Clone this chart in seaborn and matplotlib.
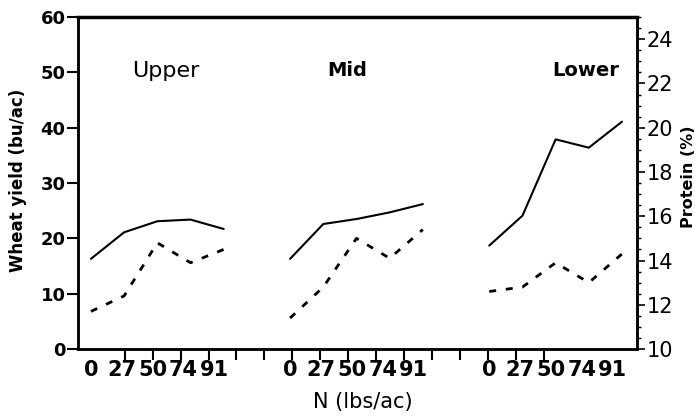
import numpy as np
import pandas as pd
import matplotlib
matplotlib.use("Agg")
import matplotlib.pyplot as plt
from matplotlib.ticker import MultipleLocator, FixedLocator
import seaborn as sns

# ---- data ----
regions = ["Upper", "Mid", "Lower"]
n_rates = [0, 27, 50, 74, 91]
yield_upper = [16.3, 21.1, 23.1, 23.4, 21.7]
yield_mid = [16.3, 22.6, 23.5, 24.7, 26.2]
yield_lower = [18.7, 24.1, 37.9, 36.4, 41.1]
protein_upper = [11.7, 12.4, 14.8, 13.9, 14.5]
protein_mid = [11.4, 12.8, 15.0, 14.1, 15.4]
protein_lower = [12.6, 12.8, 13.9, 13.0, 14.3]

yields = [yield_upper, yield_mid, yield_lower]
proteins = [protein_upper, protein_mid, protein_lower]

rows = []
for g, reg in enumerate(regions):
    for i, n in enumerate(n_rates):
        rows.append({"region": reg, "pos": 6 * g + i, "N": n,
                     "yield": yields[g][i], "protein": proteins[g][i]})
df = pd.DataFrame(rows)

sns.set_style("ticks")
plt.rcParams["font.family"] = ["DejaVu Sans"]
plt.rcParams["text.color"] = "black"
plt.rcParams["axes.labelcolor"] = "black"
plt.rcParams["xtick.color"] = "black"
plt.rcParams["ytick.color"] = "black"

fig = plt.figure(figsize=(6.95, 4.17), dpi=100)
ax = fig.add_axes([0.1122, 0.163, 0.8043, 0.796])
ax2 = ax.twinx()

sns.lineplot(data=df, x="pos", y="yield", units="region", estimator=None,
             color="black", lw=1.5, ax=ax, legend=False)
sns.lineplot(data=df, x="pos", y="protein", units="region", estimator=None,
             color="black", lw=2.0, ax=ax2, legend=False)
for ln in ax2.get_lines():
    ln.set_dashes((2.5, 3.5))
    ln.set_solid_capstyle("butt")

ax.set_xlim(-0.39, 16.45)
ax.set_ylim(0, 60)
ax2.set_ylim(10, 25)

# x ticks: labels at treatment positions, marks as minor ticks
label_pos = [6 * g + 0.93 * i for g in range(len(regions)) for i in range(len(n_rates))]
ax.set_xticks(label_pos)
ax.set_xticklabels([str(n) for _ in regions for n in n_rates],
                   fontsize=15, fontweight="bold", color="black")
ax.xaxis.set_minor_locator(FixedLocator(np.linspace(1.02, 13.64, 16)))
ax.tick_params(axis="x", which="major", length=0, pad=8, colors="black")
ax.tick_params(axis="x", which="minor", length=8, width=1.5, direction="out", colors="black")

ax.set_yticks(range(0, 61, 10))
ax.tick_params(axis="y", length=8, width=1.5, pad=1, labelsize=13, colors="black")
for lbl in ax.get_yticklabels():
    lbl.set_fontweight("bold")

ax2.set_yticks(range(10, 25, 2))
ax2.yaxis.set_minor_locator(MultipleLocator(0.5))
ax2.tick_params(axis="y", which="major", length=6, width=1.2, pad=1, labelsize=15, colors="black")
ax2.tick_params(axis="y", which="minor", length=3, width=1.0, colors="black")

for a in (ax, ax2):
    for s in a.spines.values():
        s.set_visible(True)
        s.set_linewidth(1.8)
        s.set_color("black")
ax.spines["top"].set_linewidth(2.5)

ax.set_xlabel("N (lbs/ac)", fontsize=15, color="black")
ax.xaxis.set_label_coords(0.51, -0.13)
ax.set_ylabel("Wheat yield (bu/ac)", fontsize=12, fontweight="bold", color="black")
ax.yaxis.set_label_coords(-0.091, 0.509)
ax2.set_ylabel("Protein (%)", fontsize=11.5, fontweight="bold", rotation=90, color="black")
ax2.yaxis.set_label_coords(1.079, 0.518)

title_x = [2.26, 7.71, 14.9]
title_w = ["normal", "bold", "bold"]
title_s = [16, 14, 14]
for reg, tx, tw, ts in zip(regions, title_x, title_w, title_s):
    ax.text(tx, 50.3, reg, ha="center", va="center", fontsize=ts,
            fontweight=tw, color="black")

fig.savefig("out.png", dpi=100)
